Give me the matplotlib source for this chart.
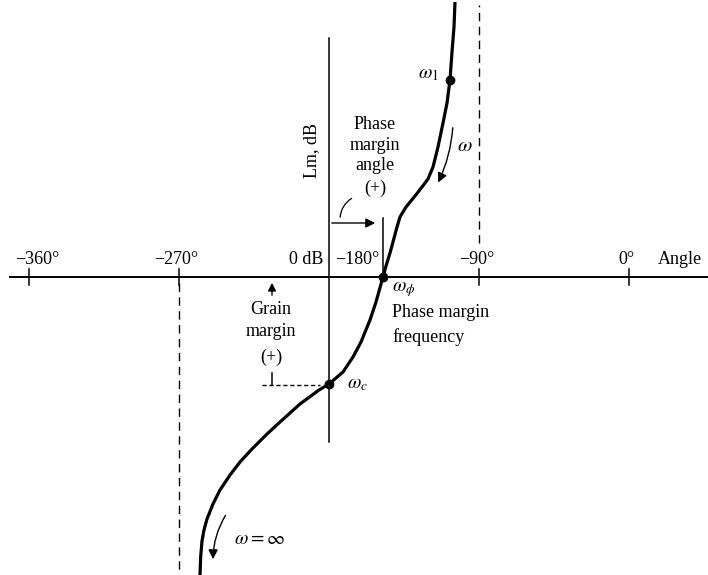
import numpy as np
import matplotlib.pyplot as plt

plt.rcParams['font.family'] = ['Liberation Serif', 'DejaVu Serif']
plt.rcParams['mathtext.fontset'] = 'stix'

# Nichols plot (angle in deg, log magnitude in dB)
curve_angle = [-104.4, -105.0, -106.2, -107.4, -109.2, -111.6, -114.6, -117.6,
               -120.6, -124.2, -128.4, -133.8, -137.4, -139.2, -141.6, -143.4,
               -145.8, -147.6, -151.8, -155.4, -160.8, -165.6, -171.6, -180.0,
               -186.0, -197.4, -209.4, -217.2, -226.2, -233.4, -239.4, -245.4,
               -249.6, -253.2, -255.0, -256.2, -257.0, -257.4]
curve_db = [55.0, 50.0, 45.0, 39.4, 34.8, 30.8, 26.0, 22.0,
            19.6, 18.0, 16.2, 14.0, 12.0, 10.0, 7.0, 4.8,
            2.2, 0.0, -5.0, -8.6, -13.0, -16.0, -19.0, -21.4,
            -22.6, -25.4, -29.0, -31.4, -34.4, -37.0, -39.6, -42.6,
            -45.4, -48.4, -50.6, -52.8, -56.0, -59.6]

tick_angles = [-360, -270, -180, -90, 0]
tick_labels = ['\u2212360\u00b0', '\u2212270\u00b0', '\u2212180\u00b0', '\u221290\u00b0', '0\u00b0']

w1 = (-107.4, 39.4)
w_phi = (-147.6, 0.0)
w_c = (-180.0, -21.4)

fig = plt.figure(figsize=(7.08, 5.75), dpi=100)
ax = fig.add_axes([0, 0, 1, 1])
ax.set_xlim(-377.4, 47.4)
ax.set_ylim(-59.6, 55.4)
ax.axis('off')

lw_thin = 1.1
fs = 13

# angle axis and Lm axis
ax.plot([-371.4, 47.4], [0, 0], color='black', lw=1.4)
ax.plot([-180, -180], [-33, 47.8], color='black', lw=lw_thin)

for a in tick_angles:
    if a != -180:
        ax.plot([a, a], [-1.6, 1.6], color='black', lw=lw_thin)

# asymptotes
ax.plot([-90, -90], [6.8, 54.4], color='black', lw=1.0, dashes=(6, 4))
ax.plot([-270, -270], [-1.2, -59.6], color='black', lw=1.0, dashes=(6, 4))

# tick labels above the axis
for a, lab in zip(tick_angles, tick_labels):
    if a == -180:
        ax.text(-176.4, 3.4, lab, ha='left', va='center', fontsize=fs)
    elif a == -360:
        ax.text(a + 5, 3.4, lab, ha='center', va='center', fontsize=fs)
    else:
        ax.text(a - 1.5, 3.4, lab, ha='center', va='center', fontsize=fs)
ax.text(-183.6, 3.4, '0 dB', ha='right', va='center', fontsize=fs)
ax.text(17.0, 3.4, 'Angle', ha='left', va='center', fontsize=fs)
ax.text(-190.2, 25.2, 'Lm, dB', ha='center', va='center', rotation=90, fontsize=fs)

# the plot
ax.plot(curve_angle, curve_db, color='black', lw=2.3, solid_capstyle='butt',
        solid_joinstyle='round')
for p in (w1, w_phi, w_c):
    ax.plot(*p, 'o', color='black', ms=6)

ax.text(-114.0, 40.4, r'$\omega_1$', ha='right', va='center', fontsize=fs + 1)
ax.text(-98.4, 26.0, r'$\omega$', ha='center', va='center', fontsize=fs + 2)
ax.annotate('', xy=(-115.2, 18.4), xytext=(-105.6, 30.4),
            arrowprops=dict(arrowstyle='-|>', color='black', lw=1.0,
                            mutation_scale=14, connectionstyle='arc3,rad=-0.1'))

ax.text(w_phi[0] + 5.4, -2.6, r'$\omega_\phi$', ha='left', va='center', fontsize=fs + 1)
ax.text(w_phi[0] + 5.4, -7.2, 'Phase margin', ha='left', va='center', fontsize=fs)
ax.text(w_phi[0] + 5.4, -12.0, 'frequency', ha='left', va='center', fontsize=fs)

ax.text(w_c[0] + 10.8, -21.6, r'$\omega_c$', ha='left', va='center', fontsize=fs + 1)

# phase margin angle
for txt, yy in (('Phase', 30.4), ('margin', 26.2), ('angle', 22.2), ('(+)', 17.8)):
    ax.text(-152.4, yy, txt, ha='center', va='center', fontsize=fs)
ax.annotate('', xy=(-150.6, 10.8), xytext=(-180, 10.8),
            arrowprops=dict(arrowstyle='-|>', color='black', lw=1.0, mutation_scale=14))
ax.plot([w_phi[0], w_phi[0]], [0, 11.8], color='black', lw=lw_thin)
ax.annotate('', xy=(-173.4, 11.4), xytext=(-165.0, 16.0),
            arrowprops=dict(arrowstyle='-', color='black', lw=0.9,
                            connectionstyle='arc3,rad=0.3'))

# gain margin
ax.annotate('', xy=(-214.2, -0.6), xytext=(-214.2, -4.2),
            arrowprops=dict(arrowstyle='-|>', color='black', lw=1.0, mutation_scale=12))
for txt, yy in (('Grain', -6.6), ('margin', -11.0), ('(+)', -16.0)):
    ax.text(-214.8, yy, txt, ha='center', va='center', fontsize=fs)
ax.plot([-214.2, -214.2], [-19.2, -21.6], color='black', lw=lw_thin)
ax.plot([-220.2, -185.4], [-21.6, -21.6], color='black', lw=1.0, dashes=(3, 2))

# omega -> infinity
ax.annotate('', xy=(-249.6, -57.0), xytext=(-241.2, -47.2),
            arrowprops=dict(arrowstyle='-|>', color='black', lw=1.0,
                            mutation_scale=14, connectionstyle='arc3,rad=0.15'))
ax.text(-237.0, -52.6, r'$\omega = \infty$', ha='left', va='center', fontsize=fs + 1)

fig.savefig('out.png', dpi=100)
